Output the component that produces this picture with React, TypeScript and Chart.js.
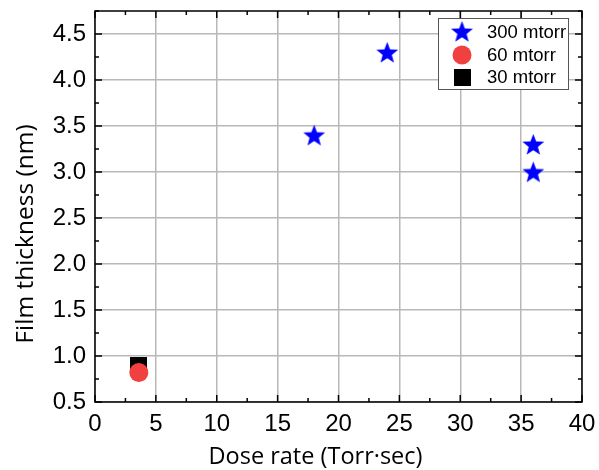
import React, { useEffect, useRef } from "react";
import { Chart, registerables } from "chart.js";

Chart.register(...registerables);

const seriesLabels = ["300 mtorr", "60 mtorr", "30 mtorr"];
const s300x = [18, 24, 36, 36];
const s300y = [3.4, 4.3, 3.3, 3.0];
const s60x = [3.6];
const s60y = [0.82];
const s30x = [3.6];
const s30y = [0.9];
const xTicks = [0, 5, 10, 15, 20, 25, 30, 35, 40];
const yTicks = [0.5, 1.0, 1.5, 2.0, 2.5, 3.0, 3.5, 4.0, 4.5];
const xMinor = [2.5, 7.5, 12.5, 17.5, 22.5, 27.5, 32.5, 37.5];
const yMinor = [0.75, 1.25, 1.75, 2.25, 2.75, 3.25, 3.75, 4.25, 4.75];
const xTitle = "Dose rate (Torr·sec)";
const yTitle = "Film thickness (nm)";

const TICK_FONT = "Liberation Sans";
const TITLE_FONT = "'Open Sans'";

function makeStar(r: number, color: string) {
  const c = document.createElement("canvas");
  const size = Math.ceil(r * 2 + 2);
  c.width = size;
  c.height = size;
  const ctx = c.getContext("2d")!;
  const cx = size / 2;
  const cy = size / 2 + r * 0.08;
  const inner = r * 0.42;
  ctx.beginPath();
  for (let i = 0; i < 10; i++) {
    const rad = i % 2 === 0 ? r : inner;
    const a = -Math.PI / 2 + (i * Math.PI) / 5;
    const x = cx + rad * Math.cos(a);
    const y = cy + rad * Math.sin(a);
    if (i === 0) ctx.moveTo(x, y);
    else ctx.lineTo(x, y);
  }
  ctx.closePath();
  ctx.fillStyle = color;
  ctx.fill();
  return c;
}

function makeSquare(s: number, color: string) {
  const c = document.createElement("canvas");
  c.width = s;
  c.height = s;
  const ctx = c.getContext("2d")!;
  ctx.fillStyle = color;
  ctx.fillRect(0, 0, s, s);
  return c;
}

export default function App() {
  const ref = useRef<HTMLCanvasElement>(null);
  useEffect(() => {
    const star = makeStar(11.5, "#0000ff");
    const square = makeSquare(17, "#000000");
    const toPts = (xs: number[], ys: number[]) => xs.map((x, i) => ({ x, y: ys[i] }));

    const framePlugin = {
      id: "frame",
      afterDraw(chart: any) {
        const { ctx, chartArea: a, scales } = chart;
        const xs = scales.x;
        const ys = scales.y;
        ctx.save();
        ctx.strokeStyle = "#000";
        ctx.lineWidth = 1.5;
        ctx.strokeRect(a.left, a.top, a.right - a.left, a.bottom - a.top);
        const tick = (x1: number, y1: number, x2: number, y2: number) => {
          ctx.beginPath();
          ctx.moveTo(x1, y1);
          ctx.lineTo(x2, y2);
          ctx.stroke();
        };
        xTicks.forEach((v) => {
          const p = xs.getPixelForValue(v);
          tick(p, a.bottom, p, a.bottom - 7);
          tick(p, a.top, p, a.top + 7);
        });
        xMinor.forEach((v) => {
          const p = xs.getPixelForValue(v);
          tick(p, a.bottom, p, a.bottom - 4);
          tick(p, a.top, p, a.top + 4);
        });
        yTicks.forEach((v) => {
          const p = ys.getPixelForValue(v);
          tick(a.left, p, a.left + 7, p);
          tick(a.right, p, a.right - 7, p);
        });
        yMinor.forEach((v) => {
          const p = ys.getPixelForValue(v);
          tick(a.left, p, a.left + 4, p);
          tick(a.right, p, a.right - 4, p);
        });
        // axis titles
        ctx.fillStyle = "#000";
        ctx.textAlign = "center";
        ctx.textBaseline = "alphabetic";
        ctx.font = "23.5px " + TITLE_FONT;
        ctx.fillText(xTitle, 315.5, 463.5);
        ctx.save();
        ctx.font = "24.5px " + TITLE_FONT;
        ctx.translate(33, 234);
        ctx.rotate(-Math.PI / 2);
        ctx.fillText(yTitle, 0, 0);
        ctx.restore();
        // legend
        const lx = 438, ly = 18, lw = 130, lh = 71;
        ctx.fillStyle = "#fff";
        ctx.fillRect(lx, ly, lw, lh);
        ctx.strokeStyle = "#555";
        ctx.lineWidth = 1;
        ctx.strokeRect(lx + 0.5, ly + 0.5, lw, lh);
        const rows = [31.5, 55, 77];
        const symX = 462;
        ctx.drawImage(star, symX - star.width / 2, rows[0] - star.height / 2);
        ctx.beginPath();
        ctx.arc(symX, rows[1], 9.5, 0, Math.PI * 2);
        ctx.fillStyle = "#f04040";
        ctx.fill();
        ctx.drawImage(square, symX - 8.5, rows[2] - 8.5);
        ctx.fillStyle = "#000";
        ctx.font = "18.5px " + TICK_FONT;
        ctx.textBaseline = "middle";
        ctx.textAlign = "left";
        seriesLabels.forEach((t, i) => ctx.fillText(t, 487, rows[i] + 1));
        ctx.restore();
      },
    };

    const chart = new Chart(ref.current!, {
      type: "scatter",
      plugins: [framePlugin],
      data: {
        datasets: [
          {
            label: seriesLabels[0],
            data: toPts(s300x, s300y),
            pointStyle: star as any,
            backgroundColor: "#0000ff",
            borderColor: "#0000ff",
          },
          {
            label: seriesLabels[1],
            data: toPts(s60x, s60y),
            pointStyle: "circle",
            pointRadius: 9.5,
            backgroundColor: "#f04040",
            borderColor: "#f04040",
            borderWidth: 0,
          },
          {
            label: seriesLabels[2],
            data: toPts(s30x, s30y),
            pointStyle: square as any,
            backgroundColor: "#000",
            borderColor: "#000",
          },
        ],
      },
      options: {
        animation: false,
        responsive: false,
        maintainAspectRatio: false,
        layout: { padding: { left: 0, right: 17, top: 11, bottom: 0 } },
        plugins: {
          legend: { display: false },
          tooltip: { enabled: false },
        },
        scales: {
          x: {
            type: "linear",
            min: 0,
            max: 40,
            afterBuildTicks: (s: any) => {
              s.ticks = xTicks.map((v) => ({ value: v }));
            },
            afterFit: (s: any) => {
              s.height = 68;
              s.paddingLeft = 0;
              s.paddingRight = 0;
              s.paddingTop = 0;
              s.paddingBottom = 0;
            },
            grid: { color: "#b8b8b8", lineWidth: 1.5, drawTicks: false },
            border: { display: false },
            ticks: {
              padding: 8,
              color: "#000",
              font: { family: TICK_FONT, size: 24 },
              maxRotation: 0,
              autoSkip: false,
            },
            title: { display: false, text: xTitle },
          },
          y: {
            type: "linear",
            min: 0.5,
            max: 4.75,
            afterBuildTicks: (s: any) => {
              s.ticks = yTicks.map((v) => ({ value: v }));
            },
            afterFit: (s: any) => {
              s.width = 95;
              s.paddingLeft = 0;
              s.paddingRight = 0;
              s.paddingTop = 0;
              s.paddingBottom = 0;
            },
            grid: { color: "#b8b8b8", lineWidth: 1.5, drawTicks: false },
            border: { display: false },
            ticks: {
              padding: 9,
              color: "#000",
              font: { family: TICK_FONT, size: 24 },
              autoSkip: false,
              callback: (v: any) => Number(v).toFixed(1),
            },
            title: { display: false, text: yTitle },
          },
        },
      },
    });
    return () => chart.destroy();
  }, []);

  return (
    <div style={{ position: "fixed", left: 0, top: 0, width: 599, height: 470, background: "#fff" }}>
      <canvas ref={ref} width={599} height={470} style={{ width: 599, height: 470 }} />
    </div>
  );
}
